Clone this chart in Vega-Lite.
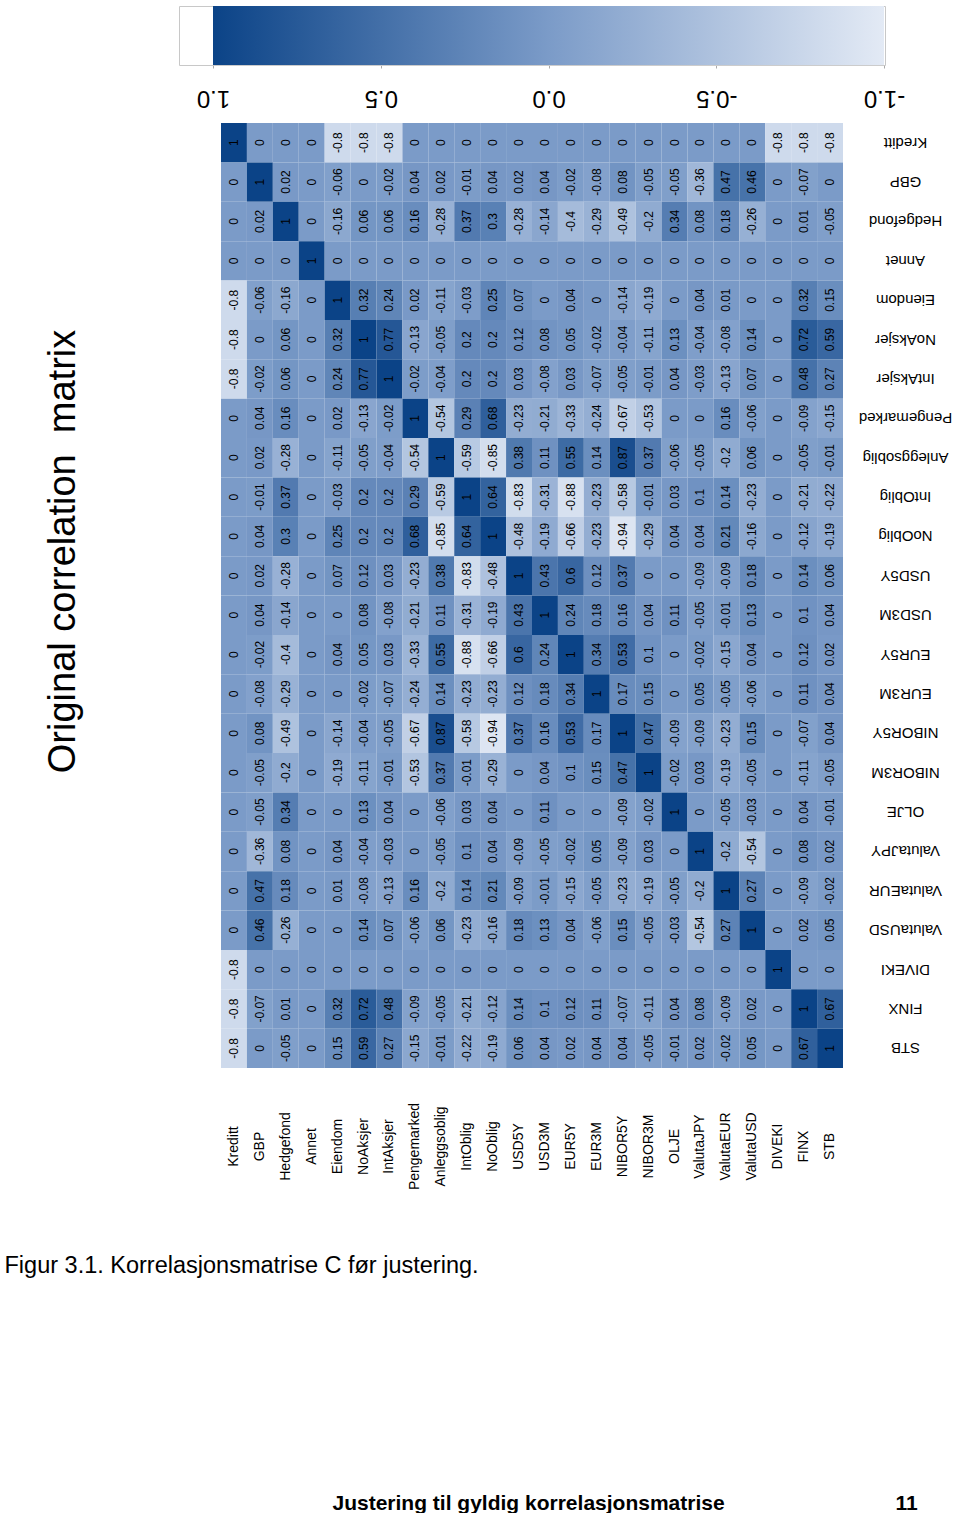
{
"$schema":"https://vega.github.io/schema/vega-lite/v6.json",
"background":"white",
"padding":{"left":3,"top":5,"right":0,"bottom":0},
"config":{"font":"Liberation Sans","view":{"stroke":null}},
"bounds":"flush",
"center":true,
"spacing":58,
"vconcat":[
{
"width":706,"height":59,
"view":{"stroke":"#c8c8c8","strokeWidth":1},
"data":{"values":[{"hi":1,"lo":-1}]},
"mark":{"type":"rect","color":{"gradient":"linear","x1":0,"y1":0,"x2":1,"y2":0,"stops":[{"offset":0,"color":"#0b4387"},{"offset":0.5,"color":"#7b9bc8"},{"offset":1,"color":"#e3eaf5"}]}},
"encoding":{
"x":{"field":"hi","type":"quantitative","scale":{"domain":[1,-1],"range":[34,705],"nice":false,"zero":false},
"axis":{"values":[1,0.5,0,-0.5,-1],"labelExpr":"datum.value == 0 ? '0.0' : (datum.value < 0 ? '-' : '') + format(abs(datum.value), '.1f')","labelAngle":180,"labelAlign":"center","labelBaseline":"middle","labelPadding":29,"labelFlush":false,"labelOverlap":false,"labelFontSize":24,"labelColor":"black","tickSize":3,"tickColor":"#aaaaaa","domainColor":"#cccccc","grid":false,
"title":"Figur 3.1. Korrelasjonsmatrise C før justering.","titleX":-175,"titleY":1207,"titleAngle":0,"titleAlign":"left","titleBaseline":"alphabetic","titleFontSize":23.5,"titleFontWeight":"normal","titleColor":"black"}},
"x2":{"field":"lo"}
}
},
{
"width":622,"height":945,
"title":{"text":"Original correlation\u00a0 matrix","orient":"left","frame":"group","anchor":"middle","offset":108,"baseline":"alphabetic","fontSize":38,"fontWeight":"normal","color":"black","dx":44},
"data":{"values":[
{"r":"Kreditt","c":"Kreditt","v":1},{"r":"Kreditt","c":"GBP","v":0},{"r":"Kreditt","c":"Hedgefond","v":0},{"r":"Kreditt","c":"Annet","v":0},{"r":"Kreditt","c":"Eiendom","v":-0.8},{"r":"Kreditt","c":"NoAksjer","v":-0.8},{"r":"Kreditt","c":"IntAksjer","v":-0.8},{"r":"Kreditt","c":"Pengemarked","v":0},{"r":"Kreditt","c":"Anleggsoblig","v":0},{"r":"Kreditt","c":"IntOblig","v":0},{"r":"Kreditt","c":"NoOblig","v":0},{"r":"Kreditt","c":"USD5Y","v":0},{"r":"Kreditt","c":"USD3M","v":0},{"r":"Kreditt","c":"EUR5Y","v":0},{"r":"Kreditt","c":"EUR3M","v":0},{"r":"Kreditt","c":"NIBOR5Y","v":0},{"r":"Kreditt","c":"NIBOR3M","v":0},{"r":"Kreditt","c":"OLJE","v":0},{"r":"Kreditt","c":"ValutaJPY","v":0},{"r":"Kreditt","c":"ValutaEUR","v":0},{"r":"Kreditt","c":"ValutaUSD","v":0},{"r":"Kreditt","c":"DIVEKI","v":-0.8},{"r":"Kreditt","c":"FINX","v":-0.8},{"r":"Kreditt","c":"STB","v":-0.8},
{"r":"GBP","c":"Kreditt","v":0},{"r":"GBP","c":"GBP","v":1},{"r":"GBP","c":"Hedgefond","v":0.02},{"r":"GBP","c":"Annet","v":0},{"r":"GBP","c":"Eiendom","v":-0.06},{"r":"GBP","c":"NoAksjer","v":0},{"r":"GBP","c":"IntAksjer","v":-0.02},{"r":"GBP","c":"Pengemarked","v":0.04},{"r":"GBP","c":"Anleggsoblig","v":0.02},{"r":"GBP","c":"IntOblig","v":-0.01},{"r":"GBP","c":"NoOblig","v":0.04},{"r":"GBP","c":"USD5Y","v":0.02},{"r":"GBP","c":"USD3M","v":0.04},{"r":"GBP","c":"EUR5Y","v":-0.02},{"r":"GBP","c":"EUR3M","v":-0.08},{"r":"GBP","c":"NIBOR5Y","v":0.08},{"r":"GBP","c":"NIBOR3M","v":-0.05},{"r":"GBP","c":"OLJE","v":-0.05},{"r":"GBP","c":"ValutaJPY","v":-0.36},{"r":"GBP","c":"ValutaEUR","v":0.47},{"r":"GBP","c":"ValutaUSD","v":0.46},{"r":"GBP","c":"DIVEKI","v":0},{"r":"GBP","c":"FINX","v":-0.07},{"r":"GBP","c":"STB","v":0},
{"r":"Hedgefond","c":"Kreditt","v":0},{"r":"Hedgefond","c":"GBP","v":0.02},{"r":"Hedgefond","c":"Hedgefond","v":1},{"r":"Hedgefond","c":"Annet","v":0},{"r":"Hedgefond","c":"Eiendom","v":-0.16},{"r":"Hedgefond","c":"NoAksjer","v":0.06},{"r":"Hedgefond","c":"IntAksjer","v":0.06},{"r":"Hedgefond","c":"Pengemarked","v":0.16},{"r":"Hedgefond","c":"Anleggsoblig","v":-0.28},{"r":"Hedgefond","c":"IntOblig","v":0.37},{"r":"Hedgefond","c":"NoOblig","v":0.3},{"r":"Hedgefond","c":"USD5Y","v":-0.28},{"r":"Hedgefond","c":"USD3M","v":-0.14},{"r":"Hedgefond","c":"EUR5Y","v":-0.4},{"r":"Hedgefond","c":"EUR3M","v":-0.29},{"r":"Hedgefond","c":"NIBOR5Y","v":-0.49},{"r":"Hedgefond","c":"NIBOR3M","v":-0.2},{"r":"Hedgefond","c":"OLJE","v":0.34},{"r":"Hedgefond","c":"ValutaJPY","v":0.08},{"r":"Hedgefond","c":"ValutaEUR","v":0.18},{"r":"Hedgefond","c":"ValutaUSD","v":-0.26},{"r":"Hedgefond","c":"DIVEKI","v":0},{"r":"Hedgefond","c":"FINX","v":0.01},{"r":"Hedgefond","c":"STB","v":-0.05},
{"r":"Annet","c":"Kreditt","v":0},{"r":"Annet","c":"GBP","v":0},{"r":"Annet","c":"Hedgefond","v":0},{"r":"Annet","c":"Annet","v":1},{"r":"Annet","c":"Eiendom","v":0},{"r":"Annet","c":"NoAksjer","v":0},{"r":"Annet","c":"IntAksjer","v":0},{"r":"Annet","c":"Pengemarked","v":0},{"r":"Annet","c":"Anleggsoblig","v":0},{"r":"Annet","c":"IntOblig","v":0},{"r":"Annet","c":"NoOblig","v":0},{"r":"Annet","c":"USD5Y","v":0},{"r":"Annet","c":"USD3M","v":0},{"r":"Annet","c":"EUR5Y","v":0},{"r":"Annet","c":"EUR3M","v":0},{"r":"Annet","c":"NIBOR5Y","v":0},{"r":"Annet","c":"NIBOR3M","v":0},{"r":"Annet","c":"OLJE","v":0},{"r":"Annet","c":"ValutaJPY","v":0},{"r":"Annet","c":"ValutaEUR","v":0},{"r":"Annet","c":"ValutaUSD","v":0},{"r":"Annet","c":"DIVEKI","v":0},{"r":"Annet","c":"FINX","v":0},{"r":"Annet","c":"STB","v":0},
{"r":"Eiendom","c":"Kreditt","v":-0.8},{"r":"Eiendom","c":"GBP","v":-0.06},{"r":"Eiendom","c":"Hedgefond","v":-0.16},{"r":"Eiendom","c":"Annet","v":0},{"r":"Eiendom","c":"Eiendom","v":1},{"r":"Eiendom","c":"NoAksjer","v":0.32},{"r":"Eiendom","c":"IntAksjer","v":0.24},{"r":"Eiendom","c":"Pengemarked","v":0.02},{"r":"Eiendom","c":"Anleggsoblig","v":-0.11},{"r":"Eiendom","c":"IntOblig","v":-0.03},{"r":"Eiendom","c":"NoOblig","v":0.25},{"r":"Eiendom","c":"USD5Y","v":0.07},{"r":"Eiendom","c":"USD3M","v":0},{"r":"Eiendom","c":"EUR5Y","v":0.04},{"r":"Eiendom","c":"EUR3M","v":0},{"r":"Eiendom","c":"NIBOR5Y","v":-0.14},{"r":"Eiendom","c":"NIBOR3M","v":-0.19},{"r":"Eiendom","c":"OLJE","v":0},{"r":"Eiendom","c":"ValutaJPY","v":0.04},{"r":"Eiendom","c":"ValutaEUR","v":0.01},{"r":"Eiendom","c":"ValutaUSD","v":0},{"r":"Eiendom","c":"DIVEKI","v":0},{"r":"Eiendom","c":"FINX","v":0.32},{"r":"Eiendom","c":"STB","v":0.15},
{"r":"NoAksjer","c":"Kreditt","v":-0.8},{"r":"NoAksjer","c":"GBP","v":0},{"r":"NoAksjer","c":"Hedgefond","v":0.06},{"r":"NoAksjer","c":"Annet","v":0},{"r":"NoAksjer","c":"Eiendom","v":0.32},{"r":"NoAksjer","c":"NoAksjer","v":1},{"r":"NoAksjer","c":"IntAksjer","v":0.77},{"r":"NoAksjer","c":"Pengemarked","v":-0.13},{"r":"NoAksjer","c":"Anleggsoblig","v":-0.05},{"r":"NoAksjer","c":"IntOblig","v":0.2},{"r":"NoAksjer","c":"NoOblig","v":0.2},{"r":"NoAksjer","c":"USD5Y","v":0.12},{"r":"NoAksjer","c":"USD3M","v":0.08},{"r":"NoAksjer","c":"EUR5Y","v":0.05},{"r":"NoAksjer","c":"EUR3M","v":-0.02},{"r":"NoAksjer","c":"NIBOR5Y","v":-0.04},{"r":"NoAksjer","c":"NIBOR3M","v":-0.11},{"r":"NoAksjer","c":"OLJE","v":0.13},{"r":"NoAksjer","c":"ValutaJPY","v":-0.04},{"r":"NoAksjer","c":"ValutaEUR","v":-0.08},{"r":"NoAksjer","c":"ValutaUSD","v":0.14},{"r":"NoAksjer","c":"DIVEKI","v":0},{"r":"NoAksjer","c":"FINX","v":0.72},{"r":"NoAksjer","c":"STB","v":0.59},
{"r":"IntAksjer","c":"Kreditt","v":-0.8},{"r":"IntAksjer","c":"GBP","v":-0.02},{"r":"IntAksjer","c":"Hedgefond","v":0.06},{"r":"IntAksjer","c":"Annet","v":0},{"r":"IntAksjer","c":"Eiendom","v":0.24},{"r":"IntAksjer","c":"NoAksjer","v":0.77},{"r":"IntAksjer","c":"IntAksjer","v":1},{"r":"IntAksjer","c":"Pengemarked","v":-0.02},{"r":"IntAksjer","c":"Anleggsoblig","v":-0.04},{"r":"IntAksjer","c":"IntOblig","v":0.2},{"r":"IntAksjer","c":"NoOblig","v":0.2},{"r":"IntAksjer","c":"USD5Y","v":0.03},{"r":"IntAksjer","c":"USD3M","v":-0.08},{"r":"IntAksjer","c":"EUR5Y","v":0.03},{"r":"IntAksjer","c":"EUR3M","v":-0.07},{"r":"IntAksjer","c":"NIBOR5Y","v":-0.05},{"r":"IntAksjer","c":"NIBOR3M","v":-0.01},{"r":"IntAksjer","c":"OLJE","v":0.04},{"r":"IntAksjer","c":"ValutaJPY","v":-0.03},{"r":"IntAksjer","c":"ValutaEUR","v":-0.13},{"r":"IntAksjer","c":"ValutaUSD","v":0.07},{"r":"IntAksjer","c":"DIVEKI","v":0},{"r":"IntAksjer","c":"FINX","v":0.48},{"r":"IntAksjer","c":"STB","v":0.27},
{"r":"Pengemarked","c":"Kreditt","v":0},{"r":"Pengemarked","c":"GBP","v":0.04},{"r":"Pengemarked","c":"Hedgefond","v":0.16},{"r":"Pengemarked","c":"Annet","v":0},{"r":"Pengemarked","c":"Eiendom","v":0.02},{"r":"Pengemarked","c":"NoAksjer","v":-0.13},{"r":"Pengemarked","c":"IntAksjer","v":-0.02},{"r":"Pengemarked","c":"Pengemarked","v":1},{"r":"Pengemarked","c":"Anleggsoblig","v":-0.54},{"r":"Pengemarked","c":"IntOblig","v":0.29},{"r":"Pengemarked","c":"NoOblig","v":0.68},{"r":"Pengemarked","c":"USD5Y","v":-0.23},{"r":"Pengemarked","c":"USD3M","v":-0.21},{"r":"Pengemarked","c":"EUR5Y","v":-0.33},{"r":"Pengemarked","c":"EUR3M","v":-0.24},{"r":"Pengemarked","c":"NIBOR5Y","v":-0.67},{"r":"Pengemarked","c":"NIBOR3M","v":-0.53},{"r":"Pengemarked","c":"OLJE","v":0},{"r":"Pengemarked","c":"ValutaJPY","v":0},{"r":"Pengemarked","c":"ValutaEUR","v":0.16},{"r":"Pengemarked","c":"ValutaUSD","v":-0.06},{"r":"Pengemarked","c":"DIVEKI","v":0},{"r":"Pengemarked","c":"FINX","v":-0.09},{"r":"Pengemarked","c":"STB","v":-0.15},
{"r":"Anleggsoblig","c":"Kreditt","v":0},{"r":"Anleggsoblig","c":"GBP","v":0.02},{"r":"Anleggsoblig","c":"Hedgefond","v":-0.28},{"r":"Anleggsoblig","c":"Annet","v":0},{"r":"Anleggsoblig","c":"Eiendom","v":-0.11},{"r":"Anleggsoblig","c":"NoAksjer","v":-0.05},{"r":"Anleggsoblig","c":"IntAksjer","v":-0.04},{"r":"Anleggsoblig","c":"Pengemarked","v":-0.54},{"r":"Anleggsoblig","c":"Anleggsoblig","v":1},{"r":"Anleggsoblig","c":"IntOblig","v":-0.59},{"r":"Anleggsoblig","c":"NoOblig","v":-0.85},{"r":"Anleggsoblig","c":"USD5Y","v":0.38},{"r":"Anleggsoblig","c":"USD3M","v":0.11},{"r":"Anleggsoblig","c":"EUR5Y","v":0.55},{"r":"Anleggsoblig","c":"EUR3M","v":0.14},{"r":"Anleggsoblig","c":"NIBOR5Y","v":0.87},{"r":"Anleggsoblig","c":"NIBOR3M","v":0.37},{"r":"Anleggsoblig","c":"OLJE","v":-0.06},{"r":"Anleggsoblig","c":"ValutaJPY","v":-0.05},{"r":"Anleggsoblig","c":"ValutaEUR","v":-0.2},{"r":"Anleggsoblig","c":"ValutaUSD","v":0.06},{"r":"Anleggsoblig","c":"DIVEKI","v":0},{"r":"Anleggsoblig","c":"FINX","v":-0.05},{"r":"Anleggsoblig","c":"STB","v":-0.01},
{"r":"IntOblig","c":"Kreditt","v":0},{"r":"IntOblig","c":"GBP","v":-0.01},{"r":"IntOblig","c":"Hedgefond","v":0.37},{"r":"IntOblig","c":"Annet","v":0},{"r":"IntOblig","c":"Eiendom","v":-0.03},{"r":"IntOblig","c":"NoAksjer","v":0.2},{"r":"IntOblig","c":"IntAksjer","v":0.2},{"r":"IntOblig","c":"Pengemarked","v":0.29},{"r":"IntOblig","c":"Anleggsoblig","v":-0.59},{"r":"IntOblig","c":"IntOblig","v":1},{"r":"IntOblig","c":"NoOblig","v":0.64},{"r":"IntOblig","c":"USD5Y","v":-0.83},{"r":"IntOblig","c":"USD3M","v":-0.31},{"r":"IntOblig","c":"EUR5Y","v":-0.88},{"r":"IntOblig","c":"EUR3M","v":-0.23},{"r":"IntOblig","c":"NIBOR5Y","v":-0.58},{"r":"IntOblig","c":"NIBOR3M","v":-0.01},{"r":"IntOblig","c":"OLJE","v":0.03},{"r":"IntOblig","c":"ValutaJPY","v":0.1},{"r":"IntOblig","c":"ValutaEUR","v":0.14},{"r":"IntOblig","c":"ValutaUSD","v":-0.23},{"r":"IntOblig","c":"DIVEKI","v":0},{"r":"IntOblig","c":"FINX","v":-0.21},{"r":"IntOblig","c":"STB","v":-0.22},
{"r":"NoOblig","c":"Kreditt","v":0},{"r":"NoOblig","c":"GBP","v":0.04},{"r":"NoOblig","c":"Hedgefond","v":0.3},{"r":"NoOblig","c":"Annet","v":0},{"r":"NoOblig","c":"Eiendom","v":0.25},{"r":"NoOblig","c":"NoAksjer","v":0.2},{"r":"NoOblig","c":"IntAksjer","v":0.2},{"r":"NoOblig","c":"Pengemarked","v":0.68},{"r":"NoOblig","c":"Anleggsoblig","v":-0.85},{"r":"NoOblig","c":"IntOblig","v":0.64},{"r":"NoOblig","c":"NoOblig","v":1},{"r":"NoOblig","c":"USD5Y","v":-0.48},{"r":"NoOblig","c":"USD3M","v":-0.19},{"r":"NoOblig","c":"EUR5Y","v":-0.66},{"r":"NoOblig","c":"EUR3M","v":-0.23},{"r":"NoOblig","c":"NIBOR5Y","v":-0.94},{"r":"NoOblig","c":"NIBOR3M","v":-0.29},{"r":"NoOblig","c":"OLJE","v":0.04},{"r":"NoOblig","c":"ValutaJPY","v":0.04},{"r":"NoOblig","c":"ValutaEUR","v":0.21},{"r":"NoOblig","c":"ValutaUSD","v":-0.16},{"r":"NoOblig","c":"DIVEKI","v":0},{"r":"NoOblig","c":"FINX","v":-0.12},{"r":"NoOblig","c":"STB","v":-0.19},
{"r":"USD5Y","c":"Kreditt","v":0},{"r":"USD5Y","c":"GBP","v":0.02},{"r":"USD5Y","c":"Hedgefond","v":-0.28},{"r":"USD5Y","c":"Annet","v":0},{"r":"USD5Y","c":"Eiendom","v":0.07},{"r":"USD5Y","c":"NoAksjer","v":0.12},{"r":"USD5Y","c":"IntAksjer","v":0.03},{"r":"USD5Y","c":"Pengemarked","v":-0.23},{"r":"USD5Y","c":"Anleggsoblig","v":0.38},{"r":"USD5Y","c":"IntOblig","v":-0.83},{"r":"USD5Y","c":"NoOblig","v":-0.48},{"r":"USD5Y","c":"USD5Y","v":1},{"r":"USD5Y","c":"USD3M","v":0.43},{"r":"USD5Y","c":"EUR5Y","v":0.6},{"r":"USD5Y","c":"EUR3M","v":0.12},{"r":"USD5Y","c":"NIBOR5Y","v":0.37},{"r":"USD5Y","c":"NIBOR3M","v":0},{"r":"USD5Y","c":"OLJE","v":0},{"r":"USD5Y","c":"ValutaJPY","v":-0.09},{"r":"USD5Y","c":"ValutaEUR","v":-0.09},{"r":"USD5Y","c":"ValutaUSD","v":0.18},{"r":"USD5Y","c":"DIVEKI","v":0},{"r":"USD5Y","c":"FINX","v":0.14},{"r":"USD5Y","c":"STB","v":0.06},
{"r":"USD3M","c":"Kreditt","v":0},{"r":"USD3M","c":"GBP","v":0.04},{"r":"USD3M","c":"Hedgefond","v":-0.14},{"r":"USD3M","c":"Annet","v":0},{"r":"USD3M","c":"Eiendom","v":0},{"r":"USD3M","c":"NoAksjer","v":0.08},{"r":"USD3M","c":"IntAksjer","v":-0.08},{"r":"USD3M","c":"Pengemarked","v":-0.21},{"r":"USD3M","c":"Anleggsoblig","v":0.11},{"r":"USD3M","c":"IntOblig","v":-0.31},{"r":"USD3M","c":"NoOblig","v":-0.19},{"r":"USD3M","c":"USD5Y","v":0.43},{"r":"USD3M","c":"USD3M","v":1},{"r":"USD3M","c":"EUR5Y","v":0.24},{"r":"USD3M","c":"EUR3M","v":0.18},{"r":"USD3M","c":"NIBOR5Y","v":0.16},{"r":"USD3M","c":"NIBOR3M","v":0.04},{"r":"USD3M","c":"OLJE","v":0.11},{"r":"USD3M","c":"ValutaJPY","v":-0.05},{"r":"USD3M","c":"ValutaEUR","v":-0.01},{"r":"USD3M","c":"ValutaUSD","v":0.13},{"r":"USD3M","c":"DIVEKI","v":0},{"r":"USD3M","c":"FINX","v":0.1},{"r":"USD3M","c":"STB","v":0.04},
{"r":"EUR5Y","c":"Kreditt","v":0},{"r":"EUR5Y","c":"GBP","v":-0.02},{"r":"EUR5Y","c":"Hedgefond","v":-0.4},{"r":"EUR5Y","c":"Annet","v":0},{"r":"EUR5Y","c":"Eiendom","v":0.04},{"r":"EUR5Y","c":"NoAksjer","v":0.05},{"r":"EUR5Y","c":"IntAksjer","v":0.03},{"r":"EUR5Y","c":"Pengemarked","v":-0.33},{"r":"EUR5Y","c":"Anleggsoblig","v":0.55},{"r":"EUR5Y","c":"IntOblig","v":-0.88},{"r":"EUR5Y","c":"NoOblig","v":-0.66},{"r":"EUR5Y","c":"USD5Y","v":0.6},{"r":"EUR5Y","c":"USD3M","v":0.24},{"r":"EUR5Y","c":"EUR5Y","v":1},{"r":"EUR5Y","c":"EUR3M","v":0.34},{"r":"EUR5Y","c":"NIBOR5Y","v":0.53},{"r":"EUR5Y","c":"NIBOR3M","v":0.1},{"r":"EUR5Y","c":"OLJE","v":0},{"r":"EUR5Y","c":"ValutaJPY","v":-0.02},{"r":"EUR5Y","c":"ValutaEUR","v":-0.15},{"r":"EUR5Y","c":"ValutaUSD","v":0.04},{"r":"EUR5Y","c":"DIVEKI","v":0},{"r":"EUR5Y","c":"FINX","v":0.12},{"r":"EUR5Y","c":"STB","v":0.02},
{"r":"EUR3M","c":"Kreditt","v":0},{"r":"EUR3M","c":"GBP","v":-0.08},{"r":"EUR3M","c":"Hedgefond","v":-0.29},{"r":"EUR3M","c":"Annet","v":0},{"r":"EUR3M","c":"Eiendom","v":0},{"r":"EUR3M","c":"NoAksjer","v":-0.02},{"r":"EUR3M","c":"IntAksjer","v":-0.07},{"r":"EUR3M","c":"Pengemarked","v":-0.24},{"r":"EUR3M","c":"Anleggsoblig","v":0.14},{"r":"EUR3M","c":"IntOblig","v":-0.23},{"r":"EUR3M","c":"NoOblig","v":-0.23},{"r":"EUR3M","c":"USD5Y","v":0.12},{"r":"EUR3M","c":"USD3M","v":0.18},{"r":"EUR3M","c":"EUR5Y","v":0.34},{"r":"EUR3M","c":"EUR3M","v":1},{"r":"EUR3M","c":"NIBOR5Y","v":0.17},{"r":"EUR3M","c":"NIBOR3M","v":0.15},{"r":"EUR3M","c":"OLJE","v":0},{"r":"EUR3M","c":"ValutaJPY","v":0.05},{"r":"EUR3M","c":"ValutaEUR","v":-0.05},{"r":"EUR3M","c":"ValutaUSD","v":-0.06},{"r":"EUR3M","c":"DIVEKI","v":0},{"r":"EUR3M","c":"FINX","v":0.11},{"r":"EUR3M","c":"STB","v":0.04},
{"r":"NIBOR5Y","c":"Kreditt","v":0},{"r":"NIBOR5Y","c":"GBP","v":0.08},{"r":"NIBOR5Y","c":"Hedgefond","v":-0.49},{"r":"NIBOR5Y","c":"Annet","v":0},{"r":"NIBOR5Y","c":"Eiendom","v":-0.14},{"r":"NIBOR5Y","c":"NoAksjer","v":-0.04},{"r":"NIBOR5Y","c":"IntAksjer","v":-0.05},{"r":"NIBOR5Y","c":"Pengemarked","v":-0.67},{"r":"NIBOR5Y","c":"Anleggsoblig","v":0.87},{"r":"NIBOR5Y","c":"IntOblig","v":-0.58},{"r":"NIBOR5Y","c":"NoOblig","v":-0.94},{"r":"NIBOR5Y","c":"USD5Y","v":0.37},{"r":"NIBOR5Y","c":"USD3M","v":0.16},{"r":"NIBOR5Y","c":"EUR5Y","v":0.53},{"r":"NIBOR5Y","c":"EUR3M","v":0.17},{"r":"NIBOR5Y","c":"NIBOR5Y","v":1},{"r":"NIBOR5Y","c":"NIBOR3M","v":0.47},{"r":"NIBOR5Y","c":"OLJE","v":-0.09},{"r":"NIBOR5Y","c":"ValutaJPY","v":-0.09},{"r":"NIBOR5Y","c":"ValutaEUR","v":-0.23},{"r":"NIBOR5Y","c":"ValutaUSD","v":0.15},{"r":"NIBOR5Y","c":"DIVEKI","v":0},{"r":"NIBOR5Y","c":"FINX","v":-0.07},{"r":"NIBOR5Y","c":"STB","v":0.04},
{"r":"NIBOR3M","c":"Kreditt","v":0},{"r":"NIBOR3M","c":"GBP","v":-0.05},{"r":"NIBOR3M","c":"Hedgefond","v":-0.2},{"r":"NIBOR3M","c":"Annet","v":0},{"r":"NIBOR3M","c":"Eiendom","v":-0.19},{"r":"NIBOR3M","c":"NoAksjer","v":-0.11},{"r":"NIBOR3M","c":"IntAksjer","v":-0.01},{"r":"NIBOR3M","c":"Pengemarked","v":-0.53},{"r":"NIBOR3M","c":"Anleggsoblig","v":0.37},{"r":"NIBOR3M","c":"IntOblig","v":-0.01},{"r":"NIBOR3M","c":"NoOblig","v":-0.29},{"r":"NIBOR3M","c":"USD5Y","v":0},{"r":"NIBOR3M","c":"USD3M","v":0.04},{"r":"NIBOR3M","c":"EUR5Y","v":0.1},{"r":"NIBOR3M","c":"EUR3M","v":0.15},{"r":"NIBOR3M","c":"NIBOR5Y","v":0.47},{"r":"NIBOR3M","c":"NIBOR3M","v":1},{"r":"NIBOR3M","c":"OLJE","v":-0.02},{"r":"NIBOR3M","c":"ValutaJPY","v":0.03},{"r":"NIBOR3M","c":"ValutaEUR","v":-0.19},{"r":"NIBOR3M","c":"ValutaUSD","v":-0.05},{"r":"NIBOR3M","c":"DIVEKI","v":0},{"r":"NIBOR3M","c":"FINX","v":-0.11},{"r":"NIBOR3M","c":"STB","v":-0.05},
{"r":"OLJE","c":"Kreditt","v":0},{"r":"OLJE","c":"GBP","v":-0.05},{"r":"OLJE","c":"Hedgefond","v":0.34},{"r":"OLJE","c":"Annet","v":0},{"r":"OLJE","c":"Eiendom","v":0},{"r":"OLJE","c":"NoAksjer","v":0.13},{"r":"OLJE","c":"IntAksjer","v":0.04},{"r":"OLJE","c":"Pengemarked","v":0},{"r":"OLJE","c":"Anleggsoblig","v":-0.06},{"r":"OLJE","c":"IntOblig","v":0.03},{"r":"OLJE","c":"NoOblig","v":0.04},{"r":"OLJE","c":"USD5Y","v":0},{"r":"OLJE","c":"USD3M","v":0.11},{"r":"OLJE","c":"EUR5Y","v":0},{"r":"OLJE","c":"EUR3M","v":0},{"r":"OLJE","c":"NIBOR5Y","v":-0.09},{"r":"OLJE","c":"NIBOR3M","v":-0.02},{"r":"OLJE","c":"OLJE","v":1},{"r":"OLJE","c":"ValutaJPY","v":0},{"r":"OLJE","c":"ValutaEUR","v":-0.05},{"r":"OLJE","c":"ValutaUSD","v":-0.03},{"r":"OLJE","c":"DIVEKI","v":0},{"r":"OLJE","c":"FINX","v":0.04},{"r":"OLJE","c":"STB","v":-0.01},
{"r":"ValutaJPY","c":"Kreditt","v":0},{"r":"ValutaJPY","c":"GBP","v":-0.36},{"r":"ValutaJPY","c":"Hedgefond","v":0.08},{"r":"ValutaJPY","c":"Annet","v":0},{"r":"ValutaJPY","c":"Eiendom","v":0.04},{"r":"ValutaJPY","c":"NoAksjer","v":-0.04},{"r":"ValutaJPY","c":"IntAksjer","v":-0.03},{"r":"ValutaJPY","c":"Pengemarked","v":0},{"r":"ValutaJPY","c":"Anleggsoblig","v":-0.05},{"r":"ValutaJPY","c":"IntOblig","v":0.1},{"r":"ValutaJPY","c":"NoOblig","v":0.04},{"r":"ValutaJPY","c":"USD5Y","v":-0.09},{"r":"ValutaJPY","c":"USD3M","v":-0.05},{"r":"ValutaJPY","c":"EUR5Y","v":-0.02},{"r":"ValutaJPY","c":"EUR3M","v":0.05},{"r":"ValutaJPY","c":"NIBOR5Y","v":-0.09},{"r":"ValutaJPY","c":"NIBOR3M","v":0.03},{"r":"ValutaJPY","c":"OLJE","v":0},{"r":"ValutaJPY","c":"ValutaJPY","v":1},{"r":"ValutaJPY","c":"ValutaEUR","v":-0.2},{"r":"ValutaJPY","c":"ValutaUSD","v":-0.54},{"r":"ValutaJPY","c":"DIVEKI","v":0},{"r":"ValutaJPY","c":"FINX","v":0.08},{"r":"ValutaJPY","c":"STB","v":0.02},
{"r":"ValutaEUR","c":"Kreditt","v":0},{"r":"ValutaEUR","c":"GBP","v":0.47},{"r":"ValutaEUR","c":"Hedgefond","v":0.18},{"r":"ValutaEUR","c":"Annet","v":0},{"r":"ValutaEUR","c":"Eiendom","v":0.01},{"r":"ValutaEUR","c":"NoAksjer","v":-0.08},{"r":"ValutaEUR","c":"IntAksjer","v":-0.13},{"r":"ValutaEUR","c":"Pengemarked","v":0.16},{"r":"ValutaEUR","c":"Anleggsoblig","v":-0.2},{"r":"ValutaEUR","c":"IntOblig","v":0.14},{"r":"ValutaEUR","c":"NoOblig","v":0.21},{"r":"ValutaEUR","c":"USD5Y","v":-0.09},{"r":"ValutaEUR","c":"USD3M","v":-0.01},{"r":"ValutaEUR","c":"EUR5Y","v":-0.15},{"r":"ValutaEUR","c":"EUR3M","v":-0.05},{"r":"ValutaEUR","c":"NIBOR5Y","v":-0.23},{"r":"ValutaEUR","c":"NIBOR3M","v":-0.19},{"r":"ValutaEUR","c":"OLJE","v":-0.05},{"r":"ValutaEUR","c":"ValutaJPY","v":-0.2},{"r":"ValutaEUR","c":"ValutaEUR","v":1},{"r":"ValutaEUR","c":"ValutaUSD","v":0.27},{"r":"ValutaEUR","c":"DIVEKI","v":0},{"r":"ValutaEUR","c":"FINX","v":-0.09},{"r":"ValutaEUR","c":"STB","v":-0.02},
{"r":"ValutaUSD","c":"Kreditt","v":0},{"r":"ValutaUSD","c":"GBP","v":0.46},{"r":"ValutaUSD","c":"Hedgefond","v":-0.26},{"r":"ValutaUSD","c":"Annet","v":0},{"r":"ValutaUSD","c":"Eiendom","v":0},{"r":"ValutaUSD","c":"NoAksjer","v":0.14},{"r":"ValutaUSD","c":"IntAksjer","v":0.07},{"r":"ValutaUSD","c":"Pengemarked","v":-0.06},{"r":"ValutaUSD","c":"Anleggsoblig","v":0.06},{"r":"ValutaUSD","c":"IntOblig","v":-0.23},{"r":"ValutaUSD","c":"NoOblig","v":-0.16},{"r":"ValutaUSD","c":"USD5Y","v":0.18},{"r":"ValutaUSD","c":"USD3M","v":0.13},{"r":"ValutaUSD","c":"EUR5Y","v":0.04},{"r":"ValutaUSD","c":"EUR3M","v":-0.06},{"r":"ValutaUSD","c":"NIBOR5Y","v":0.15},{"r":"ValutaUSD","c":"NIBOR3M","v":-0.05},{"r":"ValutaUSD","c":"OLJE","v":-0.03},{"r":"ValutaUSD","c":"ValutaJPY","v":-0.54},{"r":"ValutaUSD","c":"ValutaEUR","v":0.27},{"r":"ValutaUSD","c":"ValutaUSD","v":1},{"r":"ValutaUSD","c":"DIVEKI","v":0},{"r":"ValutaUSD","c":"FINX","v":0.02},{"r":"ValutaUSD","c":"STB","v":0.05},
{"r":"DIVEKI","c":"Kreditt","v":-0.8},{"r":"DIVEKI","c":"GBP","v":0},{"r":"DIVEKI","c":"Hedgefond","v":0},{"r":"DIVEKI","c":"Annet","v":0},{"r":"DIVEKI","c":"Eiendom","v":0},{"r":"DIVEKI","c":"NoAksjer","v":0},{"r":"DIVEKI","c":"IntAksjer","v":0},{"r":"DIVEKI","c":"Pengemarked","v":0},{"r":"DIVEKI","c":"Anleggsoblig","v":0},{"r":"DIVEKI","c":"IntOblig","v":0},{"r":"DIVEKI","c":"NoOblig","v":0},{"r":"DIVEKI","c":"USD5Y","v":0},{"r":"DIVEKI","c":"USD3M","v":0},{"r":"DIVEKI","c":"EUR5Y","v":0},{"r":"DIVEKI","c":"EUR3M","v":0},{"r":"DIVEKI","c":"NIBOR5Y","v":0},{"r":"DIVEKI","c":"NIBOR3M","v":0},{"r":"DIVEKI","c":"OLJE","v":0},{"r":"DIVEKI","c":"ValutaJPY","v":0},{"r":"DIVEKI","c":"ValutaEUR","v":0},{"r":"DIVEKI","c":"ValutaUSD","v":0},{"r":"DIVEKI","c":"DIVEKI","v":1},{"r":"DIVEKI","c":"FINX","v":0},{"r":"DIVEKI","c":"STB","v":0},
{"r":"FINX","c":"Kreditt","v":-0.8},{"r":"FINX","c":"GBP","v":-0.07},{"r":"FINX","c":"Hedgefond","v":0.01},{"r":"FINX","c":"Annet","v":0},{"r":"FINX","c":"Eiendom","v":0.32},{"r":"FINX","c":"NoAksjer","v":0.72},{"r":"FINX","c":"IntAksjer","v":0.48},{"r":"FINX","c":"Pengemarked","v":-0.09},{"r":"FINX","c":"Anleggsoblig","v":-0.05},{"r":"FINX","c":"IntOblig","v":-0.21},{"r":"FINX","c":"NoOblig","v":-0.12},{"r":"FINX","c":"USD5Y","v":0.14},{"r":"FINX","c":"USD3M","v":0.1},{"r":"FINX","c":"EUR5Y","v":0.12},{"r":"FINX","c":"EUR3M","v":0.11},{"r":"FINX","c":"NIBOR5Y","v":-0.07},{"r":"FINX","c":"NIBOR3M","v":-0.11},{"r":"FINX","c":"OLJE","v":0.04},{"r":"FINX","c":"ValutaJPY","v":0.08},{"r":"FINX","c":"ValutaEUR","v":-0.09},{"r":"FINX","c":"ValutaUSD","v":0.02},{"r":"FINX","c":"DIVEKI","v":0},{"r":"FINX","c":"FINX","v":1},{"r":"FINX","c":"STB","v":0.67},
{"r":"STB","c":"Kreditt","v":-0.8},{"r":"STB","c":"GBP","v":0},{"r":"STB","c":"Hedgefond","v":-0.05},{"r":"STB","c":"Annet","v":0},{"r":"STB","c":"Eiendom","v":0.15},{"r":"STB","c":"NoAksjer","v":0.59},{"r":"STB","c":"IntAksjer","v":0.27},{"r":"STB","c":"Pengemarked","v":-0.15},{"r":"STB","c":"Anleggsoblig","v":-0.01},{"r":"STB","c":"IntOblig","v":-0.22},{"r":"STB","c":"NoOblig","v":-0.19},{"r":"STB","c":"USD5Y","v":0.06},{"r":"STB","c":"USD3M","v":0.04},{"r":"STB","c":"EUR5Y","v":0.02},{"r":"STB","c":"EUR3M","v":0.04},{"r":"STB","c":"NIBOR5Y","v":0.04},{"r":"STB","c":"NIBOR3M","v":-0.05},{"r":"STB","c":"OLJE","v":-0.01},{"r":"STB","c":"ValutaJPY","v":0.02},{"r":"STB","c":"ValutaEUR","v":-0.02},{"r":"STB","c":"ValutaUSD","v":0.05},{"r":"STB","c":"DIVEKI","v":0},{"r":"STB","c":"FINX","v":0.67},{"r":"STB","c":"STB","v":1}
]},
"encoding":{
"x":{"field":"c","type":"nominal","sort":["Kreditt","GBP","Hedgefond","Annet","Eiendom","NoAksjer","IntAksjer","Pengemarked","Anleggsoblig","IntOblig","NoOblig","USD5Y","USD3M","EUR5Y","EUR3M","NIBOR5Y","NIBOR3M","OLJE","ValutaJPY","ValutaEUR","ValutaUSD","DIVEKI","FINX","STB"],"scale":{"paddingInner":0,"paddingOuter":0},
"axis":{"orient":"bottom","labelAngle":270,"labelAlign":"center","labelBaseline":"middle","labelPadding":78,"ticks":false,"tickSize":0,"domain":false,"labelFontSize":14,"labelColor":"black","labelOverlap":false,
"title":"11","titleX":674,"titleY":441,"titleAngle":0,"titleAlign":"left","titleBaseline":"alphabetic","titleFontSize":21,"titleFontWeight":"bold","titleColor":"black"}},
"y":{"field":"r","type":"nominal","sort":["Kreditt","GBP","Hedgefond","Annet","Eiendom","NoAksjer","IntAksjer","Pengemarked","Anleggsoblig","IntOblig","NoOblig","USD5Y","USD3M","EUR5Y","EUR3M","NIBOR5Y","NIBOR3M","OLJE","ValutaJPY","ValutaEUR","ValutaUSD","DIVEKI","FINX","STB"],"scale":{"paddingInner":0,"paddingOuter":0},
"axis":{"orient":"right","labelAngle":180,"labelAlign":"center","labelBaseline":"middle","labelPadding":62,"ticks":false,"tickSize":0,"domain":false,"labelFontSize":15,"labelColor":"black","labelOverlap":false,
"title":"Justering til gyldig korrelasjonsmatrise","titleX":-511,"titleY":1386,"titleAngle":0,"titleAlign":"left","titleBaseline":"alphabetic","titleFontSize":21,"titleFontWeight":"bold","titleColor":"black"}}
},
"layer":[
{"mark":{"type":"rect"},"encoding":{"color":{"field":"v","type":"quantitative","scale":{"domain":[-1,0,1],"range":["#e3eaf5","#7b9bc8","#0b4387"],"interpolate":"rgb"},"legend":null}}},
{"mark":{"type":"text","angle":270,"fontSize":12,"color":"black"},"encoding":{"text":{"field":"v","type":"nominal"}}}
]
}
]
}
